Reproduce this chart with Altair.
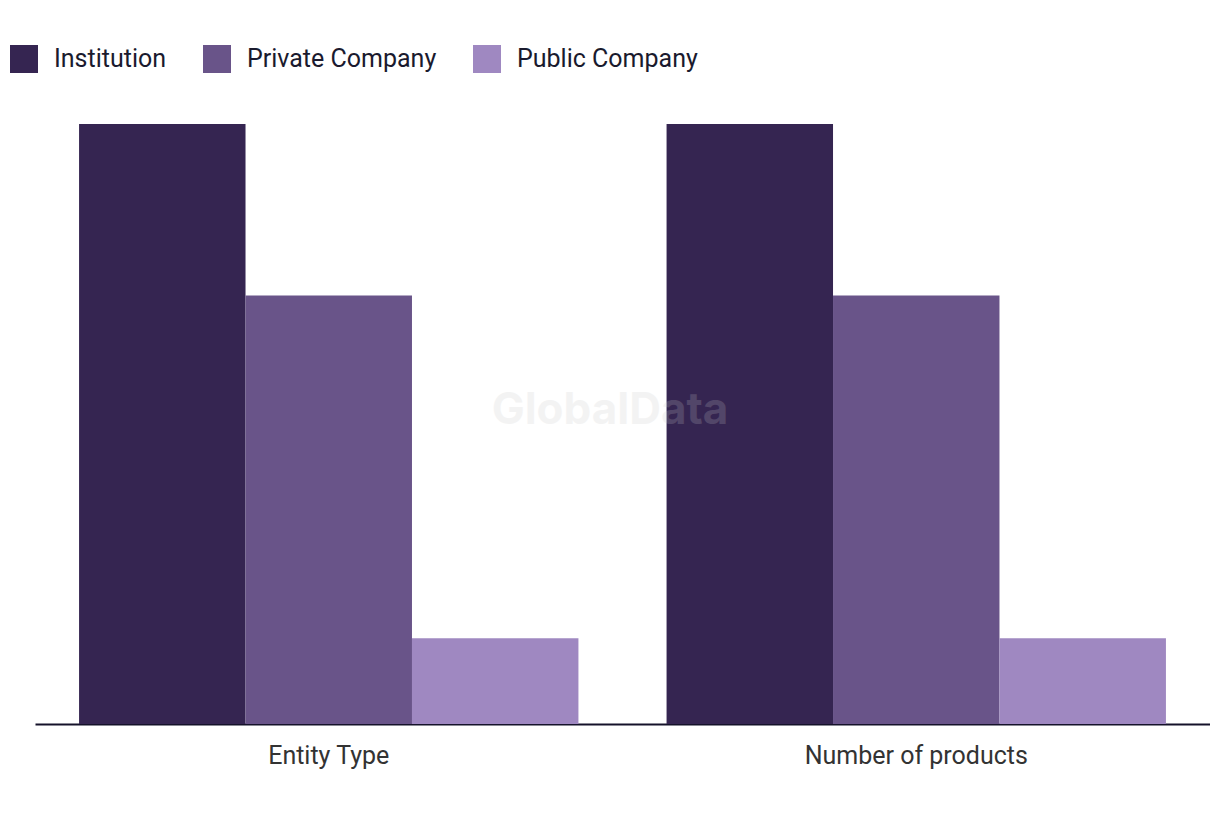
import altair as alt
import pandas as pd

categories = ["Entity Type", "Number of products"]
series = ["Institution", "Private Company", "Public Company"]
values = {
    "Institution": [7, 7],
    "Private Company": [5, 5],
    "Public Company": [1, 1],
}
colors = ["#352551", "#695489", "#9f88c1"]

rows = []
for s in series:
    for c, v in zip(categories, values[s]):
        rows.append({"category": c, "series": s, "value": v})
df = pd.DataFrame(rows)

FONT = "Roboto"

bars = alt.Chart(df).mark_bar().encode(
    x=alt.X("category:N", sort=categories,
            scale=alt.Scale(paddingInner=0.15, paddingOuter=0.075),
            axis=alt.Axis(title=None, labelAngle=0, ticks=False, grid=False,
                          domainColor="#15122a", domainWidth=2, domainOpacity=1,
                          labelFontSize=25, labelColor="#333333", labelFont=FONT,
                          labelLimit=400, labelPadding=19)),
    xOffset=alt.XOffset("series:N", sort=series, scale=alt.Scale(paddingInner=0, paddingOuter=0)),
    y=alt.Y("value:Q", scale=alt.Scale(domain=[0, 7], nice=False), axis=None),
    color=alt.Color("series:N", sort=series,
                    scale=alt.Scale(domain=series, range=colors),
                    legend=alt.Legend(title=None, orient="none", direction="horizontal",
                                      legendX=-25, legendY=-79,
                                      symbolType="square", symbolSize=784,
                                      symbolStrokeWidth=0, symbolOpacity=1,
                                      labelFontSize=25, labelFont=FONT, labelColor="#1a1a2e",
                                      labelLimit=400,
                                      labelOffset=16, columnPadding=36)),
)

wm = alt.Chart(pd.DataFrame({"t": ["GlobalData"]})).mark_text(
    font="Inter", fontWeight="bold", fontSize=44, color="#c8c8c8", opacity=0.2
).encode(text="t:N", x=alt.value(575), y=alt.value(287))

chart = alt.layer(bars, wm).properties(
    width=1175, height=600,
    autosize=alt.AutoSizeParams(type="none"),
    padding={"left": 27, "top": 116, "right": 0, "bottom": 76},
).configure(background="white").configure_view(stroke=None)

chart.save("out.html", embed_options={"renderer": "svg", "actions": False})
